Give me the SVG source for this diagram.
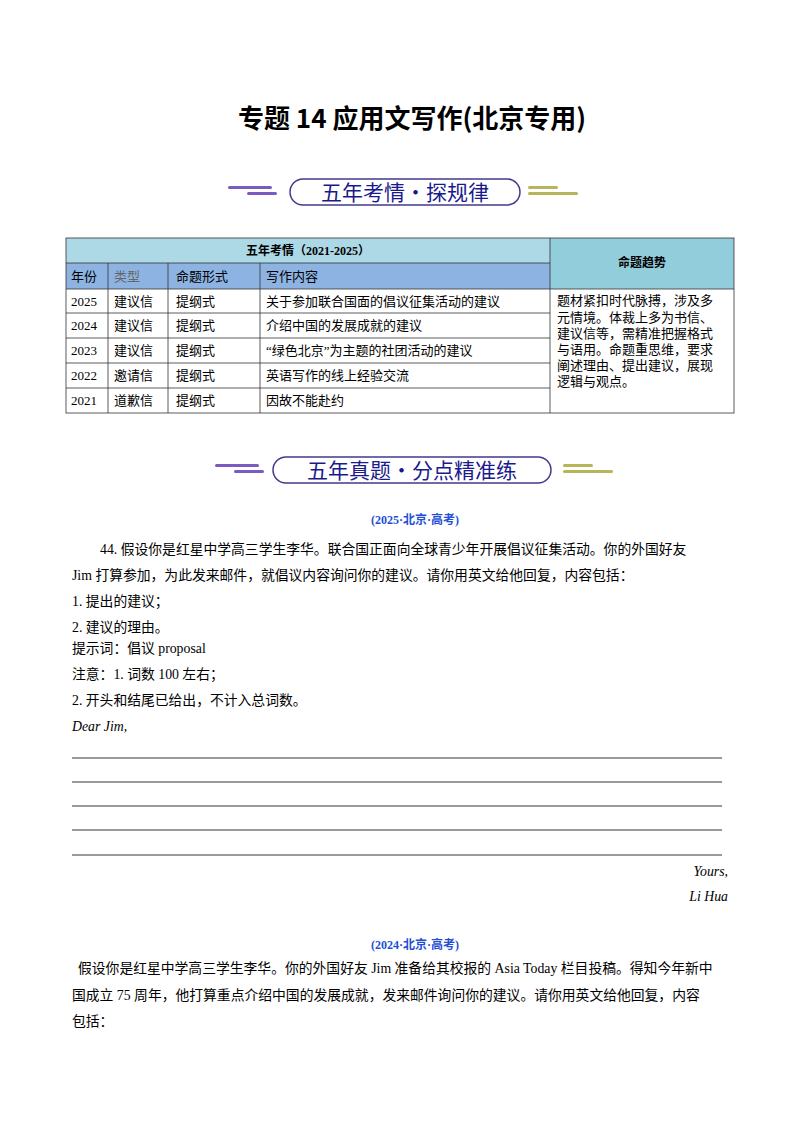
<svg xmlns="http://www.w3.org/2000/svg" width="800" height="1132" viewBox="0 0 800 1132">
<style>
text{font-family:"Liberation Serif","Noto Sans CJK SC",serif;font-size:13px;fill:#000}
.p{font-size:13.8px}
.b{font-weight:bold}
.h{font-family:"Noto Sans CJK SC",sans-serif;font-size:21px;fill:#1a1a8c}
.blue{fill:#1f4fd6;font-weight:bold;font-size:12px}
.ln{stroke:#000;stroke-width:0.8}
.tb{stroke:#333;stroke-width:0.8;fill:none}
</style>
<rect width="800" height="1132" fill="#fff"/>
<text x="412" y="128" text-anchor="middle" class="b" style="font-size:26px;font-family:'Noto Sans CJK SC',sans-serif">专题 14  应用文写作(北京专用)</text>
<g id="banner1">
<rect x="228" y="186" width="44" height="3" rx="1.5" fill="#7a5bc2"/><rect x="247" y="192" width="30" height="3" rx="1.5" fill="#7a5bc2"/>
<rect x="290" y="179" width="230" height="26" rx="13" fill="#fff" stroke="#443a8c" stroke-width="1.5"/>
<text x="405" y="200" text-anchor="middle" class="h">五年考情・探规律</text>
<rect x="528" y="186" width="30" height="3" rx="1.5" fill="#b8b45a"/><rect x="528" y="192" width="50" height="3" rx="1.5" fill="#b8b45a"/>
</g>
<g id="table">
<rect x="66" y="238" width="484" height="25" fill="#add8e6"/>
<rect x="66" y="263" width="484" height="26" fill="#8db3e2"/>
<rect x="550" y="238" width="184" height="51" fill="#92cddc"/>
<rect x="66" y="238" width="668" height="175" class="tb"/>
<path class="tb" d="M66 263H550M66 289H734M66 313H550M66 338H550M66 363H550M66 388H550M108 263V413M168 263V413M260 263V413M550 238V413"/>
<text x="308" y="255" text-anchor="middle" class="b" style="font-size:12px">五年考情（2021-2025）</text>
<text x="642" y="267" text-anchor="middle" class="b" style="font-size:12px">命题趋势</text>
<text x="71" y="281">年份</text><text x="114" y="281" style="fill:#666">类型</text><text x="176" y="281">命题形式</text><text x="266" y="281">写作内容</text>
<text x="71" y="306">2025</text><text x="114" y="306">建议信</text><text x="176" y="306">提纲式</text><text x="266" y="306">关于参加联合国面的倡议征集活动的建议</text>
<text x="71" y="330">2024</text><text x="114" y="330">建议信</text><text x="176" y="330">提纲式</text><text x="266" y="330">介绍中国的发展成就的建议</text>
<text x="71" y="355">2023</text><text x="114" y="355">建议信</text><text x="176" y="355">提纲式</text><text x="266" y="355">“绿色北京”为主题的社团活动的建议</text>
<text x="71" y="380">2022</text><text x="114" y="380">邀请信</text><text x="176" y="380">提纲式</text><text x="266" y="380">英语写作的线上经验交流</text>
<text x="71" y="405">2021</text><text x="114" y="405">道歉信</text><text x="176" y="405">提纲式</text><text x="266" y="405">因故不能赴约</text>
<text x="557" y="305">题材紧扣时代脉搏，涉及多</text>
<text x="557" y="322">元情境。体裁上多为书信、</text>
<text x="557" y="338">建议信等，需精准把握格式</text>
<text x="557" y="354">与语用。命题重思维，要求</text>
<text x="557" y="370">阐述理由、提出建议，展现</text>
<text x="557" y="386">逻辑与观点。</text>
</g>
<g id="banner2">
<rect x="215" y="464" width="44" height="3" rx="1.5" fill="#7a5bc2"/><rect x="234" y="470" width="30" height="3" rx="1.5" fill="#7a5bc2"/>
<rect x="273" y="457" width="278" height="26" rx="13" fill="#fff" stroke="#443a8c" stroke-width="1.5"/>
<text x="412" y="478" text-anchor="middle" class="h">五年真题・分点精准练</text>
<rect x="563" y="464" width="30" height="3" rx="1.5" fill="#b8b45a"/><rect x="563" y="470" width="50" height="3" rx="1.5" fill="#b8b45a"/>
</g>
<text x="415" y="524" text-anchor="middle" class="blue">(2025·北京·高考)</text>
<text x="100" y="554" class="p">44. 假设你是红星中学高三学生李华。联合国正面向全球青少年开展倡议征集活动。你的外国好友</text>
<text x="72" y="580" class="p">Jim 打算参加，为此发来邮件，就倡议内容询问你的建议。请你用英文给他回复，内容包括：</text>
<text x="72" y="606" class="p">1. 提出的建议；</text>
<text x="72" y="632" class="p">2. 建议的理由。</text>
<text x="72" y="653" class="p">提示词：倡议  proposal</text>
<text x="72" y="679" class="p">注意：1. 词数 100 左右；</text>
<text x="72" y="705" class="p">2. 开头和结尾已给出，不计入总词数。</text>
<text x="72" y="731" class="p" style="font-style:italic">Dear Jim,</text>
<path class="ln" d="M72 758H722M72 782H722M72 806H722M72 830H722M72 855H722"/>
<text x="728" y="876" text-anchor="end" class="p" style="font-style:italic">Yours,</text>
<text x="728" y="901" text-anchor="end" class="p" style="font-style:italic">Li Hua</text>
<text x="415" y="949" text-anchor="middle" class="blue">(2024·北京·高考)</text>
<text x="78" y="973" class="p">假设你是红星中学高三学生李华。你的外国好友 Jim 准备给其校报的 Asia Today 栏目投稿。得知今年新中</text>
<text x="72" y="1000" class="p">国成立 75 周年，他打算重点介绍中国的发展成就，发来邮件询问你的建议。请你用英文给他回复，内容</text>
<text x="72" y="1026" class="p">包括：</text>
</svg>
